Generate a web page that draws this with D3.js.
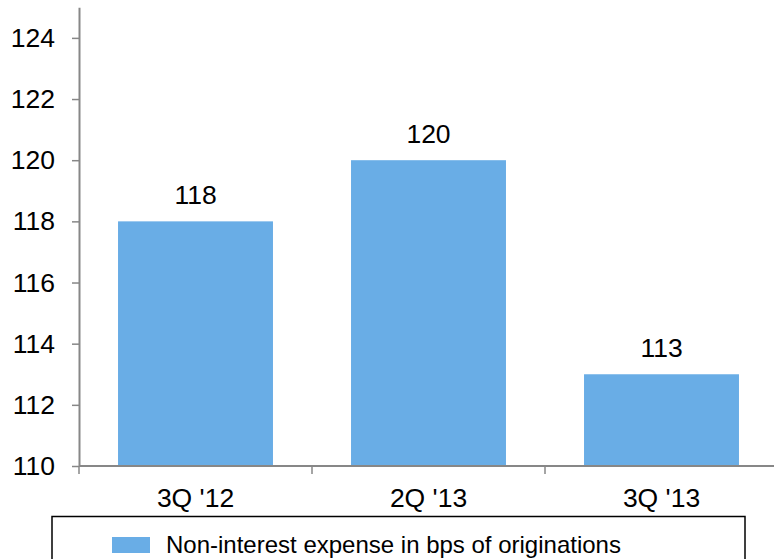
<!DOCTYPE html>
<html>
<head>
<meta charset="utf-8">
<script src="https://cdn.jsdelivr.net/npm/d3@7/dist/d3.min.js"></script>
<style>
  html, body { margin: 0; padding: 0; background: #fff; }
  svg { display: block; }
  text { font-family: "Liberation Sans", Arial, sans-serif; fill: #000; }
</style>
</head>
<body>
<svg id="chart" width="774" height="559"></svg>
<script>
const categories = ["3Q '12", "2Q '13", "3Q '13"];
const values = [118, 120, 113];
const yTicks = [110, 112, 114, 116, 118, 120, 122, 124];
const seriesName = "Non-interest expense in bps of originations";

(function () {
const svg = d3.select("#chart");
const plotLeft = 79, plotRight = 778, plotTop = 7.3, plotBottom = 466;
const axisColor = "#878787";
const barColor = "#69ADE6";
const labelSize = "26.5px";

const x = d3.scaleBand().domain(categories).range([plotLeft, plotRight])
  .paddingInner(0.335).paddingOuter(0.1675);
const y = d3.scaleLinear().domain([110, 125]).range([plotBottom, plotTop]);

// bars
svg.append("g").selectAll("rect").data(values).join("rect")
  .attr("x", (d, i) => x(categories[i]))
  .attr("width", x.bandwidth())
  .attr("y", d => y(d))
  .attr("height", d => y(110) - y(d))
  .attr("fill", barColor);

// data labels
svg.append("g").selectAll("text").data(values).join("text")
  .attr("x", (d, i) => x(categories[i]) + x.bandwidth() / 2)
  .attr("y", d => y(d) - 17)
  .attr("text-anchor", "middle")
  .style("font-size", labelSize)
  .text(d => d);

// y axis
const yAxis = svg.append("g").attr("transform", `translate(${plotLeft},0)`)
  .call(d3.axisLeft(y).tickValues(yTicks).tickSize(7).tickSizeOuter(0).tickPadding(17));
yAxis.select(".domain").attr("stroke", axisColor).attr("stroke-width", 2);
yAxis.selectAll(".tick line").attr("stroke", axisColor).attr("stroke-width", 1.5);
yAxis.selectAll(".tick text")
  .style("font-size", labelSize).style("font-family", "'Liberation Sans', Arial, sans-serif")
  .attr("fill", "#000");

// x axis
const xAxis = svg.append("g");
xAxis.append("line").attr("x1", plotLeft).attr("x2", 774)
  .attr("y1", plotBottom).attr("y2", plotBottom)
  .attr("stroke", axisColor).attr("stroke-width", 2);
const gap = x.step() - x.bandwidth();
const bounds = categories.map(c => x(c) - gap / 2).concat([x(categories[categories.length - 1]) + x.bandwidth() + gap / 2]);
xAxis.selectAll("line.tk").data(bounds).join("line").attr("class", "tk")
  .attr("x1", d => d).attr("x2", d => d)
  .attr("y1", plotBottom).attr("y2", plotBottom + 8)
  .attr("stroke", axisColor).attr("stroke-width", 1.5);
xAxis.selectAll("text").data(categories).join("text")
  .attr("x", c => x(c) + x.bandwidth() / 2)
  .attr("y", 507)
  .attr("text-anchor", "middle")
  .style("font-size", labelSize)
  .text(c => c);

// legend
const lg = svg.append("g");
lg.append("rect").attr("x", 52).attr("y", 516.5).attr("width", 693).attr("height", 60)
  .attr("fill", "none").attr("stroke", "#000").attr("stroke-width", 1.5);
lg.append("rect").attr("x", 112).attr("y", 537).attr("width", 38).attr("height", 16)
  .attr("fill", barColor);
lg.append("text").attr("x", 166).attr("y", 553)
  .style("font-size", "24px").text(seriesName);
})();
</script>
</body>
</html>
